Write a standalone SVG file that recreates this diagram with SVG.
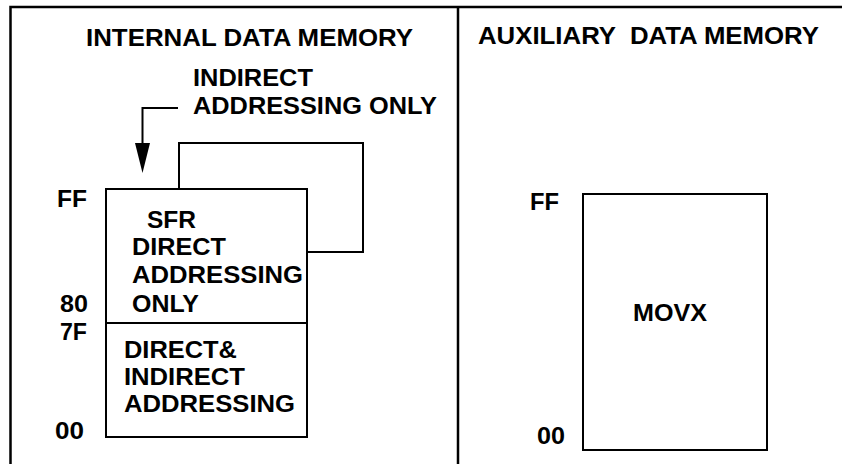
<svg xmlns="http://www.w3.org/2000/svg" width="842" height="464" viewBox="0 0 842 464">
<style>
text{font-family:"Liberation Sans",Arial,sans-serif;font-weight:bold;font-size:23px;fill:#000}
.frame{stroke:#000;stroke-width:2.5;fill:none}
.box{stroke:#000;stroke-width:2;fill:none}
.conn{stroke:#000;stroke-width:2;fill:none}
</style>
<g id="frame">
<path class="frame" d="M10.5,464 V7 H842"/>
<line class="frame" x1="458" y1="7" x2="458" y2="464"/>
</g>
<g id="titles">
<text x="86" y="46" textLength="327" lengthAdjust="spacingAndGlyphs">INTERNAL DATA MEMORY</text>
<text x="478" y="44" textLength="341" lengthAdjust="spacingAndGlyphs" style="white-space:pre">AUXILIARY  DATA MEMORY</text>
</g>
<g id="indirect-label">
<text x="193" y="86" textLength="120" lengthAdjust="spacingAndGlyphs">INDIRECT</text>
<text x="193" y="114" textLength="244" lengthAdjust="spacingAndGlyphs">ADDRESSING ONLY</text>
</g>
<g id="internal-ram">
<rect class="box" x="106" y="189" width="201" height="248"/>
<line class="box" x1="106" y1="323" x2="307" y2="323"/>
<text x="147" y="228" textLength="49" lengthAdjust="spacingAndGlyphs">SFR</text>
<text x="132" y="255" textLength="94" lengthAdjust="spacingAndGlyphs">DIRECT</text>
<text x="132" y="283" textLength="171" lengthAdjust="spacingAndGlyphs">ADDRESSING</text>
<text x="132" y="312" textLength="67" lengthAdjust="spacingAndGlyphs">ONLY</text>
<text x="124" y="358" textLength="113" lengthAdjust="spacingAndGlyphs">DIRECT&amp;</text>
<text x="124" y="385" textLength="121" lengthAdjust="spacingAndGlyphs">INDIRECT</text>
<text x="124" y="412" textLength="171" lengthAdjust="spacingAndGlyphs">ADDRESSING</text>
</g>
<g id="internal-addresses">
<text x="57" y="207" textLength="30" lengthAdjust="spacingAndGlyphs">FF</text>
<text x="60" y="312" textLength="28" lengthAdjust="spacingAndGlyphs">80</text>
<text x="60" y="340" textLength="27" lengthAdjust="spacingAndGlyphs">7F</text>
<text x="55" y="439" textLength="29" lengthAdjust="spacingAndGlyphs">00</text>
</g>
<g id="aux-ram">
<rect class="box" x="583" y="194" width="184" height="256"/>
<text x="633" y="321" textLength="74" lengthAdjust="spacingAndGlyphs">MOVX</text>
<text x="530" y="210" textLength="29" lengthAdjust="spacingAndGlyphs">FF</text>
<text x="537" y="444" textLength="28" lengthAdjust="spacingAndGlyphs">00</text>
</g>
<g id="connectors">
<path class="conn" d="M178,108 H142.5 V145"/>
<polygon points="135,143 150,143 142.5,173" fill="#000"/>
<path class="conn" d="M179,189 V143 H363 V252 H307"/>
</g>
</svg>
